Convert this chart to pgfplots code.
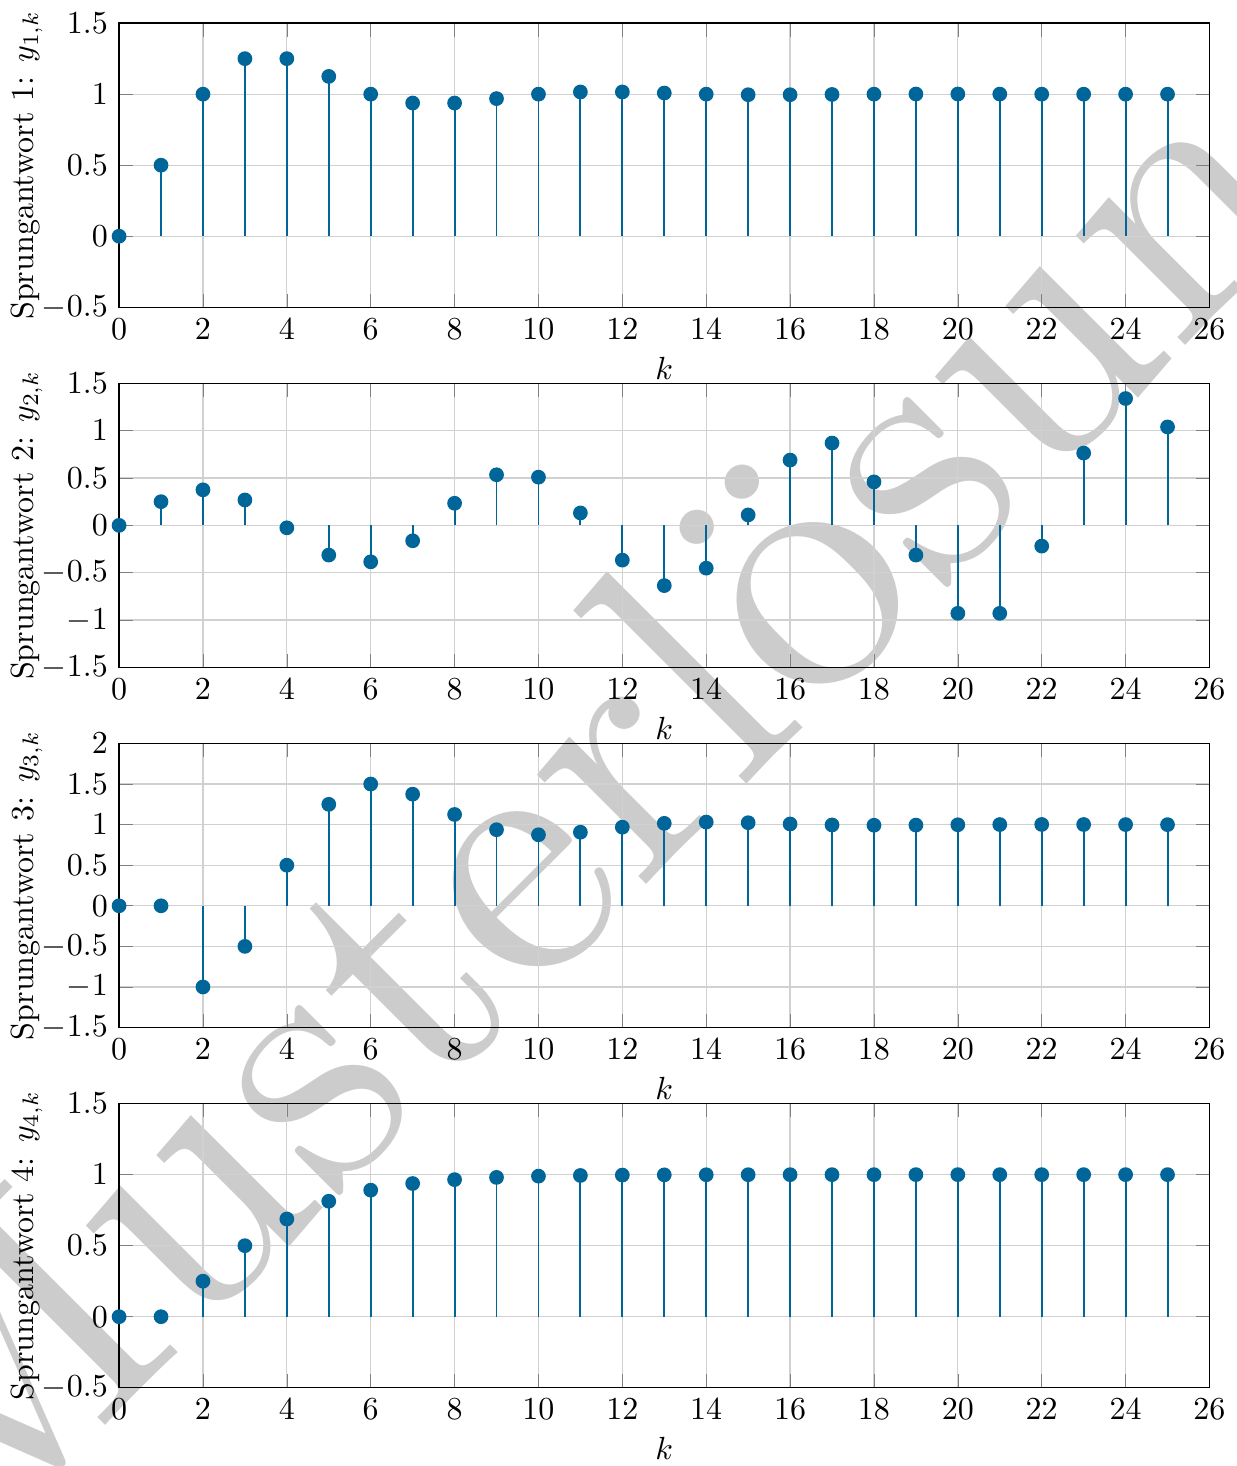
\documentclass[border=0pt]{standalone}
\usepackage{pgfplots}
\pgfplotsset{compat=1.18}
\usetikzlibrary{backgrounds}
\definecolor{stemblue}{RGB}{0,102,153}
\pgfplotsset{
  stemaxis/.style={
    scale only axis, width=340.6pt, height=88.75pt,
    anchor=north west,
    xmin=0, xmax=26, xtick={0,2,4,6,8,10,12,14,16,18,20,22,24,26},
    grid=major, major grid style={black!18},
    xlabel={$k$}, xlabel style={inner ysep=2pt},
    ylabel shift=-7pt,
  },
  stemplot/.style={ycomb, color=stemblue, line width=0.6pt, mark=*, mark size=2pt, mark options={solid, fill=stemblue}},
}
\pgfplotstableread{
k y
0 0
1 0.5
2 1
3 1.25
4 1.25
5 1.125
6 1
7 0.9375
8 0.9375
9 0.96875
10 1
11 1.0156
12 1.0156
13 1.0078
14 1
15 0.9961
16 0.9961
17 0.998
18 1
19 1.001
20 1.001
21 1.0005
22 1
23 0.9998
24 0.9998
25 0.9999
}\dataA
\pgfplotstableread{
k y
0 0
1 0.25
2 0.375
3 0.268
4 -0.026
5 -0.314
6 -0.385
7 -0.163
8 0.233
9 0.534
10 0.509
11 0.131
12 -0.367
13 -0.636
14 -0.452
15 0.110
16 0.689
17 0.869
18 0.459
19 -0.314
20 -0.929
21 -0.929
22 -0.219
23 0.763
24 1.339
25 1.039
}\dataB
\pgfplotstableread{
k y
0 0
1 0
2 -1
3 -0.5
4 0.5
5 1.25
6 1.5
7 1.375
8 1.125
9 0.9375
10 0.875
11 0.9063
12 0.9688
13 1.0156
14 1.0313
15 1.0234
16 1.0078
17 0.9961
18 0.9922
19 0.9941
20 0.998
21 1.001
22 1.002
23 1.0015
24 1.0005
25 0.9998
}\dataC
\pgfplotstableread{
k y
0 0
1 0
2 0.25
3 0.5
4 0.6875
5 0.8125
6 0.8906
7 0.9375
8 0.9648
9 0.9805
10 0.9893
11 0.9941
12 0.9968
13 0.9983
14 0.9991
15 0.9995
16 0.9997
17 0.9999
18 0.9999
19 1
20 1
21 1
22 1
23 1
24 1
25 1
}\dataD
\begin{document}
\begin{tikzpicture}
\begin{axis}[stemaxis, at={(0,0)}, ymin=-0.5, ymax=1.5, ytick={-0.5,0,0.5,1,1.5},
  ylabel={Sprungantwort 1: $y_{1,k}$}]
\addplot[stemplot] table[x=k,y=y] {\dataA};
\end{axis}
\begin{axis}[stemaxis, at={(0,-112.5pt)}, ymin=-1.5, ymax=1.5, ytick={-1.5,-1,-0.5,0,0.5,1,1.5},
  ylabel={Sprungantwort 2: $y_{2,k}$}]
\addplot[stemplot] table[x=k,y=y] {\dataB};
\end{axis}
\begin{axis}[stemaxis, at={(0,-225pt)}, ymin=-1.5, ymax=2, ytick={-1.5,-1,-0.5,0,0.5,1,1.5,2},
  ylabel={Sprungantwort 3: $y_{3,k}$}]
\addplot[stemplot] table[x=k,y=y] {\dataC};
\coordinate (wm) at (axis cs:13.85,0.92);
\end{axis}
\begin{axis}[stemaxis, at={(0,-337.5pt)}, ymin=-0.5, ymax=1.5, ytick={-0.5,0,0.5,1,1.5},
  ylabel={Sprungantwort 4: $y_{4,k}$}]
\addplot[stemplot] table[x=k,y=y] {\dataD};
\end{axis}
\begin{scope}[on background layer]
\node[overlay, anchor=base, rotate=45, scale=11.2, text=black!20, inner sep=0pt] at (wm) {Musterlösung};
\end{scope}
\end{tikzpicture}
\end{document}
